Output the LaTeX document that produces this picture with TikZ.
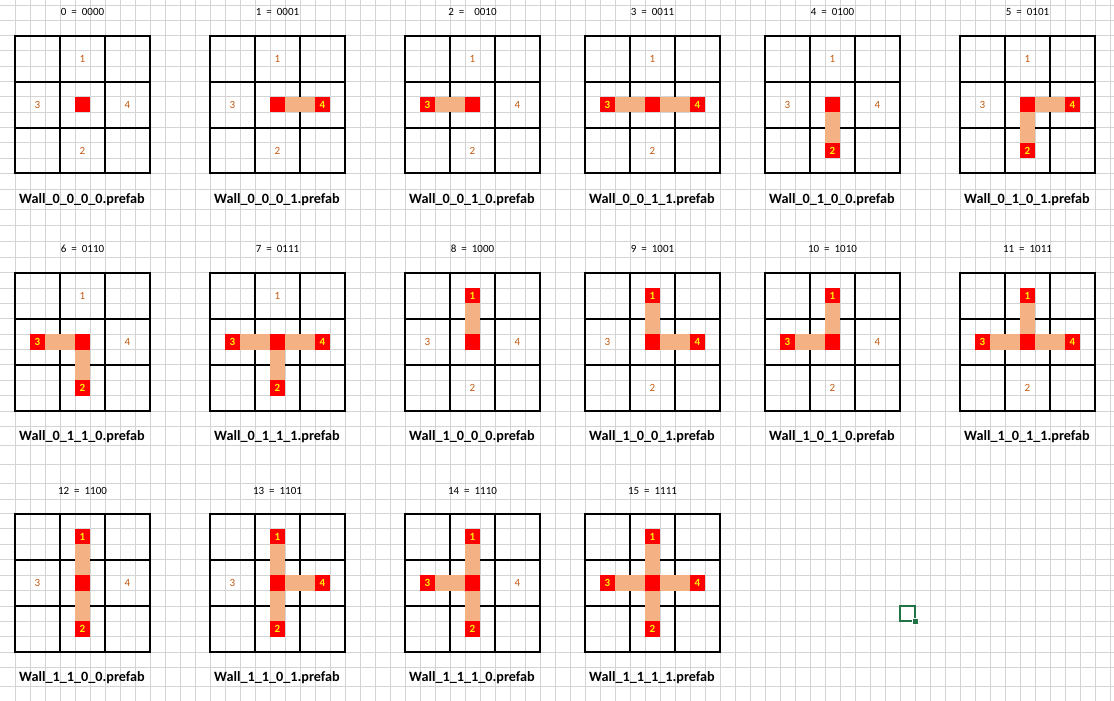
\documentclass[tikz,border=0pt]{standalone}
\usepackage{fontspec}
\setmainfont{Carlito}
\newfontfamily\codefont[WordSpace=2]{Carlito}
\usepackage{tikz}
\definecolor{wallred}{HTML}{FF0000}
\definecolor{peach}{HTML}{F4B183}
\definecolor{numorange}{HTML}{C55A11}
\definecolor{cellgray}{HTML}{D4D4D4}
\definecolor{excelgreen}{HTML}{217346}
\tikzset{
  cellline/.style={cellgray, line width=1pt},
  tileframe/.style={black, line width=2pt},
  seg0/.style={}, seg1/.style={fill=peach},
  end0/.style={}, end1/.style={fill=wallred},
  num0/.style={text=numorange, inner sep=0, font=\fontsize{11}{13}\selectfont},
  num1/.style={text=yellow, inner sep=0, font=\fontsize{11}{13}\selectfont\bfseries},
  codetitle/.style={anchor=base, inner sep=0, font=\codefont\fontsize{11}{13}\selectfont},
  prefab/.style={anchor=base, inner sep=0, font=\fontsize{14.2}{17}\selectfont\bfseries}
}
\begin{document}
\begin{tikzpicture}[x=1pt,y=-1pt]
\useasboundingbox (0,0) rectangle (1114,701);
\fill[white] (0,0) rectangle (1114,701);
% sheet grid
\foreach \x in {15,30,...,1110} \draw[cellline] (\x,0) -- (\x,701);
\foreach \y in {5.5,20.7,189.3,209,225,241.3,257.3,426.5,445,464.3,483.3,499,667.7,686.7}
  \draw[cellline] (0,\y) -- (1114,\y);
\foreach \rowtop/\rh in {35.7/15.3,272.7/15.37,513.5/15.42}
  \foreach \k in {0,...,9} \draw[cellline] (0,{\rowtop+\k*\rh}) -- (1114,{\rowtop+\k*\rh});
% tiles
\foreach \idx in {0,...,15}{
  \pgfmathtruncatemacro\tileRow{int(\idx/6)}
  \pgfmathtruncatemacro\tileCol{mod(\idx,6)}
  \pgfmathsetmacro\tileX{{15,210,405,585,765,960}[\tileCol]}
  \pgfmathsetmacro\tileY{{35.7,272.7,513.5}[\tileRow]}
  \pgfmathsetmacro\rh{{15.3,15.37,15.42}[\tileRow]}
  \pgfmathsetmacro\titleY{{16,252.7,494.3}[\tileRow]}
  \pgfmathsetmacro\nameY{{203,440.3,681.5}[\tileRow]}
  \pgfmathtruncatemacro\bitN{int(\idx/8)}
  \pgfmathtruncatemacro\bitS{mod(int(\idx/4),2)}
  \pgfmathtruncatemacro\bitW{mod(int(\idx/2),2)}
  \pgfmathtruncatemacro\bitE{mod(\idx,2)}
  \draw[tileframe] (\tileX,\tileY) rectangle +(135,{9*\rh});
  \draw[tileframe] ({\tileX+45},\tileY) -- +(0,{9*\rh}) ({\tileX+90},\tileY) -- +(0,{9*\rh})
    (\tileX,{\tileY+3*\rh}) -- +(135,0) (\tileX,{\tileY+6*\rh}) -- +(135,0);
  \fill[wallred] ({\tileX+60},{\tileY+4*\rh}) rectangle +(15,\rh);
  \path[seg\bitN] ({\tileX+60},{\tileY+2*\rh}) rectangle +(15,{2*\rh});
  \path[end\bitN] ({\tileX+60},{\tileY+\rh}) rectangle +(15,\rh);
  \path[seg\bitS] ({\tileX+60},{\tileY+5*\rh}) rectangle +(15,{2*\rh});
  \path[end\bitS] ({\tileX+60},{\tileY+7*\rh}) rectangle +(15,\rh);
  \path[seg\bitW] ({\tileX+30},{\tileY+4*\rh}) rectangle +(30,\rh);
  \path[end\bitW] ({\tileX+15},{\tileY+4*\rh}) rectangle +(15,\rh);
  \path[seg\bitE] ({\tileX+75},{\tileY+4*\rh}) rectangle +(30,\rh);
  \path[end\bitE] ({\tileX+105},{\tileY+4*\rh}) rectangle +(15,\rh);
  \node[num\bitN] (tile\idx-1) at ({\tileX+67.5},{\tileY+1.5*\rh}) {1};
  \node[num\bitS] (tile\idx-2) at ({\tileX+67.5},{\tileY+7.5*\rh}) {2};
  \node[num\bitW] (tile\idx-3) at ({\tileX+22.5},{\tileY+4.5*\rh}) {3};
  \node[num\bitE] (tile\idx-4) at ({\tileX+112.5},{\tileY+4.5*\rh}) {4};
  \node[codetitle] (code\idx) at ({\tileX+67.5},\titleY) {\idx\ =\ \ifnum\idx=2 \ \fi\bitN\bitS\bitW\bitE};
  \node[prefab] (name\idx) at ({\tileX+67},\nameY) {Wall\_\bitN\_\bitS\_\bitW\_\bitE.prefab};
}
% selected cell
\draw[excelgreen, line width=2pt] (900,606) rectangle (915,621.3);
\fill[excelgreen, draw=white, line width=0.6pt] (912.5,618.6) rectangle (918.5,624.6);
\end{tikzpicture}
\end{document}
